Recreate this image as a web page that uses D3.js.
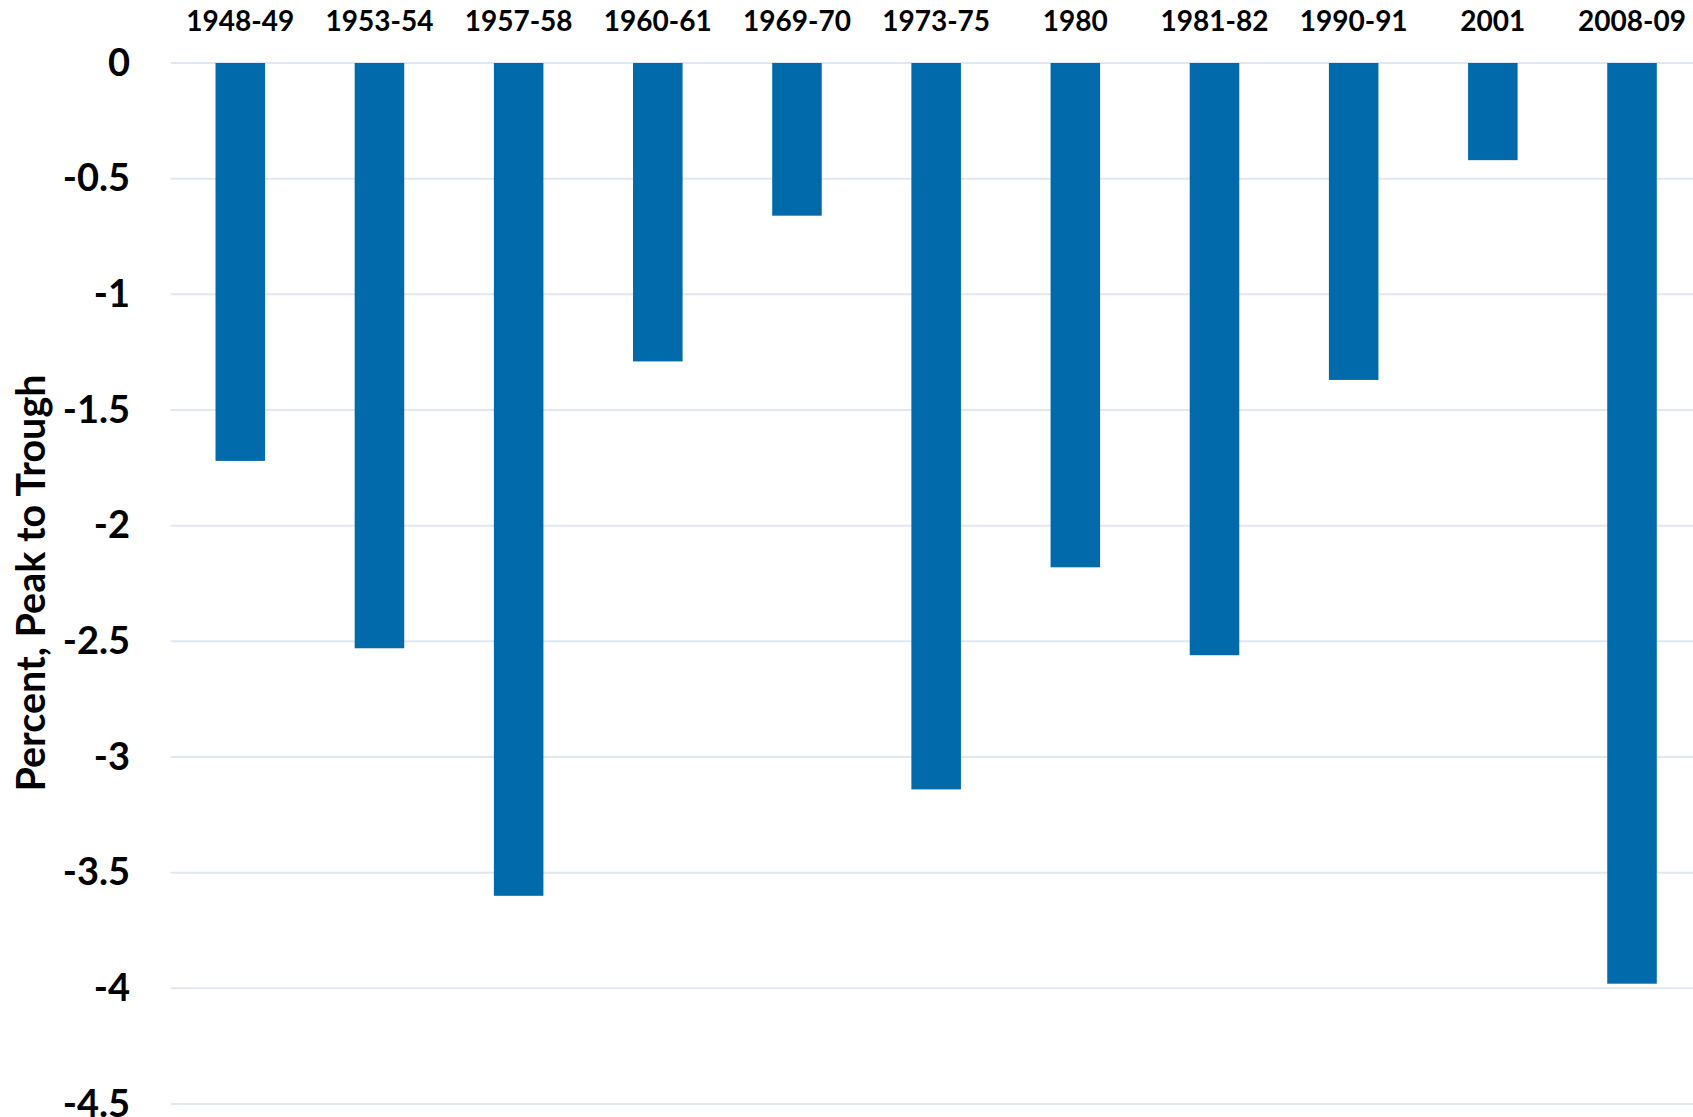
<!DOCTYPE html>
<html>
<head>
<meta charset="utf-8">
<script src="https://cdn.jsdelivr.net/npm/d3@7/dist/d3.min.js"></script>
<style>
  html, body { margin: 0; padding: 0; background: #ffffff; }
  svg { display: block; font-family: Lato, "Open Sans", sans-serif; font-weight: bold; }
</style>
</head>
<body>
<div id="chart"></div>
<script>
// recessions and peak-to-trough change in real GDP
var recessions = ["1948-49", "1953-54", "1957-58", "1960-61", "1969-70", "1973-75", "1980", "1981-82", "1990-91", "2001", "2008-09"];
var declines = [-1.72, -2.53, -3.6, -1.29, -0.66, -3.14, -2.18, -2.56, -1.37, -0.42, -3.98];
var yTicks = [0, -0.5, -1, -1.5, -2, -2.5, -3, -3.5, -4, -4.5];
var yTitle = "Percent, Peak to Trough";

var chartWidth = 1693,
    chartHeight = 1117;
var plot = {left: 170.7, right: 1701.6, top: 63, bottom: 1104};
var barColor = "#006aaa";
var gridColor = "#dfe7f1";

var svg = d3.select("#chart").append("svg")
            .attr("width", chartWidth)
            .attr("height", chartHeight);

var xScale = d3.scaleBand()
        .domain(recessions)
        .range([plot.left, plot.right])
        .paddingInner(0.644)
        .paddingOuter(0.322);
var yScale = d3.scaleLinear()
        .domain([0, -4.5])
        .range([plot.top, plot.bottom]);

// gridlines
var grid = svg.append("g");
grid.selectAll("line").data(yTicks)
    .enter()
    .append("line")
    .attr("x1", plot.left)
    .attr("x2", chartWidth)
    .attr("y1", function(d) { return yScale(d); })
    .attr("y2", function(d) { return yScale(d); })
    .attr("stroke", gridColor)
    .attr("stroke-width", 2);

// y axis labels
var yAxis = d3.axisLeft(yScale)
        .tickValues(yTicks)
        .tickFormat(function(d) { return d3.format("")(d).replace("−", "-"); })
        .tickSize(0)
        .tickPadding(0);
var yAxisGroup = svg.append("g")
        .attr("transform", "translate(130,0)")
        .call(yAxis);
yAxisGroup.select(".domain").remove();
yAxisGroup.selectAll("text")
        .attr("font-family", "Lato, sans-serif")
        .attr("font-weight", "bold")
        .attr("font-size", 38)
        .attr("fill", "#000000");

// category labels along the top
var xAxis = d3.axisTop(xScale)
        .tickSize(0)
        .tickPadding(0);
var xAxisGroup = svg.append("g")
        .attr("transform", "translate(0,31)")
        .call(xAxis);
xAxisGroup.select(".domain").remove();
xAxisGroup.selectAll("text")
        .attr("dy", 0)
        .attr("font-family", "Lato, sans-serif")
        .attr("font-weight", "bold")
        .attr("font-size", 28)
        .attr("fill", "#000000");

// bars
var bars = svg.append("g");
bars.selectAll("rect").data(recessions)
    .enter()
    .append("rect")
    .attr("x", function(d) { return xScale(d); })
    .attr("width", xScale.bandwidth())
    .attr("y", yScale(0))
    .attr("height", function(d, i) { return yScale(declines[i]) - yScale(0); })
    .attr("fill", barColor);

// axis title
svg.append("text")
    .attr("transform", "translate(45,583) rotate(-90)")
    .attr("text-anchor", "middle")
    .attr("font-size", 39.5)
    .attr("fill", "#000000")
    .text(yTitle);
</script>
</body>
</html>
